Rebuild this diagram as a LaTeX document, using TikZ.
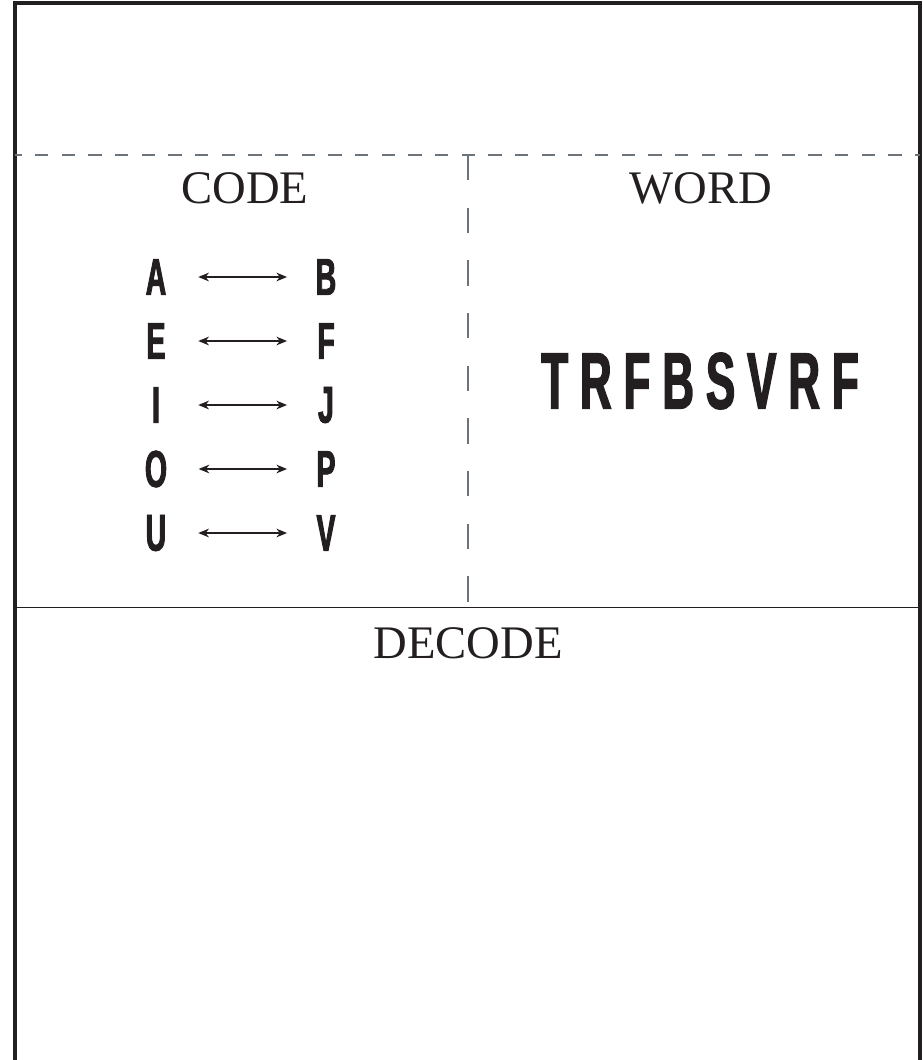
\documentclass[tikz,border=0pt]{standalone}
\usepackage{fontspec}
\setmainfont{Liberation Serif}
\newfontfamily\condfont[FakeStretch=0.55,FakeBold=1.8]{Liberation Sans}
\usetikzlibrary{arrows.meta}
\definecolor{ink}{HTML}{231F20}
\definecolor{dashgray}{HTML}{6D737A}
\newcommand\lsp{\hspace{9pt}}
\begin{document}
\begin{tikzpicture}[x=0.75pt,y=-0.75pt,
  title/.style={inner sep=0pt,text=ink,font=\fontsize{35}{40}\selectfont},
  letter/.style={inner sep=0pt,minimum width=16pt,text=ink,font=\condfont\bfseries\fontsize{38.75}{40}\selectfont},
  bigword/.style={inner sep=0pt,text=ink,font=\condfont\bfseries\fontsize{59.7}{62}\selectfont},
  pair/.style={{Stealth[length=8pt,width=6.5pt,inset=2.5pt]}-{Stealth[length=8pt,width=6.5pt,inset=2.5pt]},line width=0.9pt,ink,shorten <=23.5pt,shorten >=21pt},
  frame/.style={line width=2.3pt,ink},
  fold/.style={dashgray,line width=1.5pt,dash pattern=on 10pt off 10pt,dash phase=5pt},
  vfold/.style={dashgray,line width=1pt,dash pattern=on 19pt off 20.5pt},
  cut/.style={ink,line width=1pt}]
\clip (0,0) rectangle (922,1060);
\useasboundingbox (0,0) rectangle (922,1060);
% frame
\draw[frame] (15,1070) -- (15,3) -- (920,3) -- (920,1070);
\draw[cut] (15,607.5) -- (920,607.5);
\draw[fold] (15,155) -- (920,155);
\draw[vfold] (468,155) -- (468,607.5);
% titles
\node[title] (code) at (245,188) {CODE};
\node[title] (word) at (701,188) {WORD};
\node[title] (decode) at (468,643) {DECODE};
% letters
\node[letter] (A) at (156,277) {A};
\node[letter] (B) at (326,277) {B};
\node[letter] (E) at (156,341) {E};
\node[letter] (F) at (326,341) {F};
\node[letter] (I) at (156,405) {I};
\node[letter] (J) at (326,405) {J};
\node[letter] (O) at (156,469) {O};
\node[letter] (P) at (326,469) {P};
\node[letter] (U) at (156,533) {U};
\node[letter] (V) at (326,533) {V};
\draw[pair] (A.east) -- (B.west);
\draw[pair] (E.east) -- (F.west);
\draw[pair] (I.east) -- (J.west);
\draw[pair] (O.east) -- (P.west);
\draw[pair] (U.east) -- (V.west);
% coded word
\node[bigword] (coded) at (700,381) {T\lsp R\lsp F\lsp B\lsp S\lsp V\lsp R\lsp F};
\end{tikzpicture}
\end{document}
